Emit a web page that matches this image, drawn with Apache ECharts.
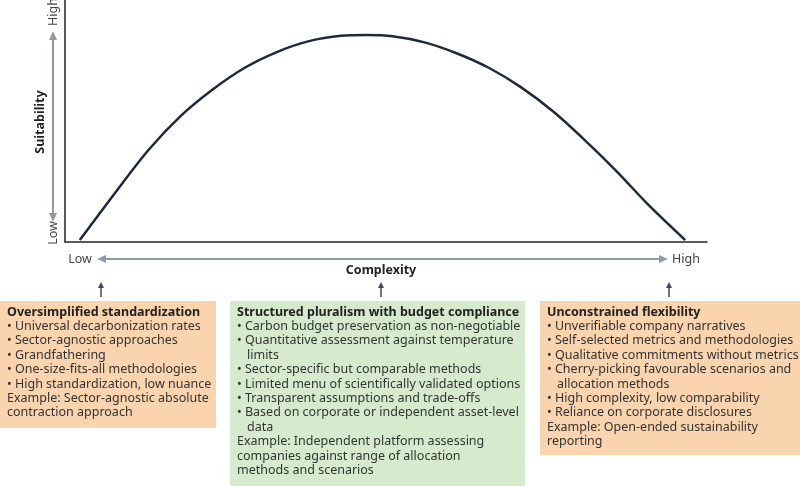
<!DOCTYPE html>
<html>
<head>
<meta charset="utf-8">
<script src="https://cdn.jsdelivr.net/npm/echarts@6/dist/echarts.min.js"></script>
<style>html,body{margin:0;padding:0;background:#fff}#chart{width:800px;height:486px}</style>
</head>
<body>
<div id="chart"></div>
<script>
// curve (complexity 0-100, suitability 0-100)
var complexity = [2.3, 8, 13, 18, 23, 28, 33, 38, 43, 47, 51, 56, 61, 66, 71, 76, 81, 86, 91, 96.6];
var suitability = [0.8, 21, 38, 52, 63, 72, 78.5, 83, 85.2, 85.5, 85, 82.5, 78, 72, 64, 54, 42, 29, 15, 0.8];

var leftTitle = 'Oversimplified standardization';
var leftLines = ['• Universal decarbonization rates', '• Sector-agnostic approaches', '• Grandfathering',
  '• One-size-fits-all methodologies', '• High standardization, low nuance',
  'Example: Sector-agnostic absolute', 'contraction approach'];
var midTitle = 'Structured pluralism with budget compliance';
var midLines = ['• Carbon budget preservation as non-negotiable', '• Quantitative assessment against temperature', '  limits',
  '• Sector-specific but comparable methods', '• Limited menu of scientifically validated options',
  '• Transparent assumptions and trade-offs', '• Based on corporate or independent asset-level', '  data',
  'Example: Independent platform assessing', 'companies against range of allocation', 'methods and scenarios'];
var rightTitle = 'Unconstrained flexibility';
var rightLines = ['• Unverifiable company narratives', '• Self-selected metrics and methodologies',
  '• Qualitative commitments without metrics', '• Cherry-picking favourable scenarios and', '  allocation methods',
  '• High complexity, low comparability', '• Reliance on corporate disclosures',
  'Example: Open-ended sustainability', 'reporting'];

var FONT = '"Noto Sans", sans-serif';
var GREY = '#8d99ad';

function box(x, y, w, h, fill, title, lines){
  var els = [{type:'rect', shape:{x:x, y:y, width:w, height:h}, style:{fill:fill}, silent:true},
    {type:'text', x:x+7, y:y+11, style:{text:title, font:'bold 12.5px '+FONT, fill:'#222', verticalAlign:'middle'}}];
  for(var i=0;i<lines.length;i++){
    var s=lines[i], dx=0;
    if(s.indexOf('  ')==0){dx=10; s=s.trim();}
    els.push({type:'text', x:x+7+dx, y:y+25.5+i*14.4, style:{text:s, font:'12.5px '+FONT, fill:'#333', verticalAlign:'middle'}});
  }
  return els;
}
function upArrow(x){
  return [{type:'line', shape:{x1:x,y1:297,x2:x,y2:286}, style:{stroke:'#3a4a66', lineWidth:1.5}},
    {type:'polygon', shape:{points:[[x-3,288],[x+3,288],[x,282]]}, style:{fill:'#3a4a66'}}];
}
function hArrow(){
  return [{type:'line', shape:{x1:100,y1:259,x2:665,y2:259}, style:{stroke:GREY, lineWidth:2}},
    {type:'polygon', shape:{points:[[97,259],[106,255],[106,263]]}, style:{fill:GREY}},
    {type:'polygon', shape:{points:[[668,259],[659,255],[659,263]]}, style:{fill:GREY}}];
}
function vArrow(){
  return [{type:'line', shape:{x1:53,y1:35,x2:53,y2:218}, style:{stroke:GREY, lineWidth:2}},
    {type:'polygon', shape:{points:[[53,31],[49,40],[57,40]]}, style:{fill:GREY}},
    {type:'polygon', shape:{points:[[53,222],[49,213],[57,213]]}, style:{fill:GREY}}];
}

var g = [];
g = g.concat(box(0, 301, 216, 127, '#f9d4ae', leftTitle, leftLines));
g = g.concat(box(230, 301, 295, 185, '#d6ebcd', midTitle, midLines));
g = g.concat(box(540, 301, 260, 154, '#f9d4ae', rightTitle, rightLines));
g = g.concat(upArrow(101), upArrow(381), upArrow(669), hArrow(), vArrow());
g.push({type:'text', x:80, y:259, style:{text:'Low', font:'12.5px '+FONT, fill:'#444', align:'center', verticalAlign:'middle'}});
g.push({type:'text', x:686, y:259, style:{text:'High', font:'12.5px '+FONT, fill:'#444', align:'center', verticalAlign:'middle'}});
g.push({type:'text', x:381, y:270, style:{text:'Complexity', font:'bold 12.5px '+FONT, fill:'#222', align:'center', verticalAlign:'middle'}});
g.push({type:'text', x:53, y:12, rotation:Math.PI/2, style:{text:'High', font:'12.5px '+FONT, fill:'#444', align:'center', verticalAlign:'middle'}});
g.push({type:'text', x:53, y:233, rotation:Math.PI/2, style:{text:'Low', font:'12.5px '+FONT, fill:'#444', align:'center', verticalAlign:'middle'}});
g.push({type:'text', x:40, y:122, rotation:Math.PI/2, style:{text:'Suitability', font:'bold 12.5px '+FONT, fill:'#222', align:'center', verticalAlign:'middle'}});

var myChart = echarts.init(document.getElementById('chart'));
var option = {
  animation:false,
  grid:{left:65, right:93, top:0, bottom:244},
  xAxis:{type:'value', min:0, max:100, axisLine:{show:true, onZero:false, lineStyle:{color:'#222', width:1.5}},
    axisTick:{show:false}, axisLabel:{show:false}, splitLine:{show:false}},
  yAxis:{type:'value', min:0, max:100, axisLine:{show:true, lineStyle:{color:'#222', width:1.5}},
    axisTick:{show:false}, axisLabel:{show:false}, splitLine:{show:false}},
  series:[{type:'line', smooth:0.3, symbol:'none',
    lineStyle:{color:'#1d2a3d', width:2.5},
    data:complexity.map(function(c,i){return [c, suitability[i]];})}],
  graphic:g
};
myChart.setOption(option);
</script>
</body>
</html>
